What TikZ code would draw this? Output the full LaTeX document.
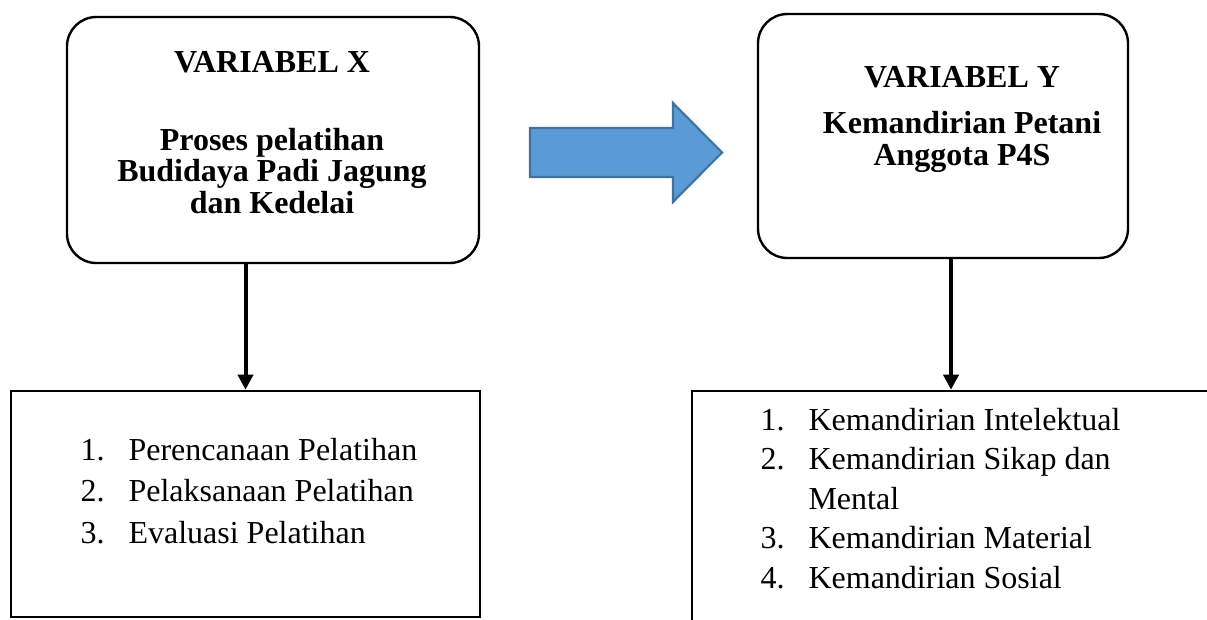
\documentclass[tikz,border=0pt]{standalone}
\usepackage{fontspec}
\setmainfont{Liberation Serif}
\usetikzlibrary{positioning, arrows.meta}
\definecolor{arrowblue}{HTML}{5B9BD5}
\definecolor{arrowedge}{HTML}{41719C}

\begin{document}
\begin{tikzpicture}[x=0.375pt, y=-0.375pt,
    varbox/.style={draw, line width=0.9pt, rounded corners=11pt, inner sep=0pt},
    indbox/.style={draw, line width=1pt, inner sep=0pt},
    title/.style={font=\fontsize{12}{11.8}\selectfont\bfseries, align=center, anchor=base},
    items/.style={align=left, anchor=base west, inner sep=0pt},
    down/.style={-{Triangle[width=5.6pt,length=5.6pt]}, line width=1.5pt}]
    \useasboundingbox (0,0) rectangle (1207,619);

    % Variable boxes
    \node[varbox, minimum width=412*0.375pt, minimum height=246*0.375pt] (varx) at (273,140) {};
    \node[varbox, minimum width=370*0.375pt, minimum height=244*0.375pt] (vary) at (943,136) {};

    % Indicator boxes
    \node[indbox, minimum width=469*0.375pt, minimum height=226*0.375pt] (indx) at (245.5,504) {};
    \node[indbox, minimum width=518*0.375pt, minimum height=239*0.375pt] (indy) at (951,510.5) {};

    % Titles (base = last line)
    \node[title] (xhead) at (272,72) {VARIABEL X};
    \node[title] (xname) at (272,213) {Proses pelatihan\\Budidaya Padi Jagung\\dan Kedelai};
    \node[title] (yhead) at (962,87) {VARIABEL Y};
    \node[title] (yname) at (962,165) {Kemandirian Petani\\Anggota P4S};

    % Indicator lists
    \node[items, font=\fontsize{12}{15.4}\selectfont] (xlist) at (80,543)
        {\makebox[18pt][l]{1.}Perencanaan Pelatihan\\
         \makebox[18pt][l]{2.}Pelaksanaan Pelatihan\\
         \makebox[18pt][l]{3.}Evaluasi Pelatihan};
    \node[items, font=\fontsize{12}{14.8}\selectfont] (ylist) at (760,588)
        {\makebox[18pt][l]{1.}Kemandirian Intelektual\\
         \makebox[18pt][l]{2.}Kemandirian Sikap dan\\
         \hspace*{18pt}Mental\\
         \makebox[18pt][l]{3.}Kemandirian Material\\
         \makebox[18pt][l]{4.}Kemandirian Sosial};

    % Connectors
    \draw[down] (varx.south -| indx.north) -- (indx.north);
    \draw[down] (vary.south -| indy.north) -- (indy.north);

    % Block arrow between the variables
    \filldraw[fill=arrowblue, draw=arrowedge, line width=0.8pt]
        (530,128) -- (673,128) -- (673,103) -- (722,152.5) -- (673,202)
        -- (673,177) -- (530,177) -- cycle;
\end{tikzpicture}
\end{document}
